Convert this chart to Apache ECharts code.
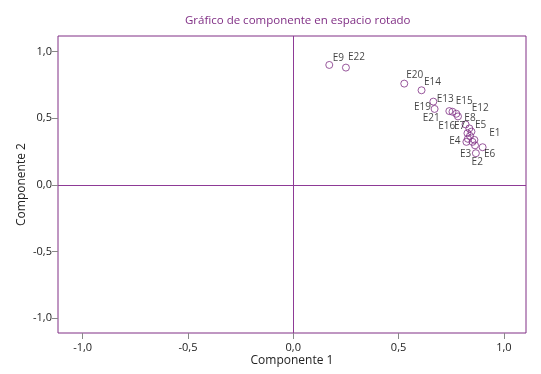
<!DOCTYPE html>
<html>
<head>
<meta charset="utf-8">
<script src="https://cdn.jsdelivr.net/npm/echarts@6/dist/echarts.min.js"></script>
<style>html,body{margin:0;padding:0;background:#fff}#chart{width:541px;height:374px}</style>
</head>
<body>
<div id="chart"></div>
<script>
// ---- data ----
const pointNames = ['E9','E22','E20','E14','E13','E19','E15','E21','E12','E16','E8','E5','E7','E10','E11','E17','E4','E18','E3','E1','E6','E2'];
const componente1 = [0.171,0.250,0.527,0.609,0.665,0.671,0.741,0.756,0.774,0.782,0.818,0.836,0.827,0.846,0.839,0.829,0.822,0.851,0.863,0.860,0.899,0.867];
const componente2 = [0.899,0.879,0.759,0.709,0.624,0.569,0.553,0.548,0.533,0.513,0.453,0.423,0.387,0.399,0.367,0.345,0.322,0.322,0.296,0.337,0.282,0.237];
const tickValues = [-1.0,-0.5,0.0,0.5,1.0];
const hiddenLabels = ['E10','E11','E17','E18'];

// ---- layout (label offsets in px, relative to the marker centre) ----
const labelOffsets = {
  E9:[3.5,-7], E22:[2,-10], E20:[2,-8], E14:[2.5,-8], E13:[3.4,-2.5], E19:[-20.7,-1.5],
  E15:[6.4,-9.7], E21:[-29.8,6.5], E12:[15.4,-5.5], E16:[-19.7,9.3], E8:[-1.2,-6.5],
  E5:[5.7,-3.5], E7:[-13.5,-7.3], E1:[14.8,-6.5], E4:[-17.2,-0.5], E3:[-15,8.5],
  E6:[1.3,6.7], E2:[-4.3,9.2]
};

const purple = '#802f85';
const zeroColor = '#8e3a96';
const font = 'Open Sans';
const fmt = v => v.toFixed(1).replace('.', ',');
const X_MIN = -1.117, X_MAX = 1.105, Y_MIN = -1.111, Y_MAX = 1.116;

const data = pointNames.map((n, i) => ({
  name: n,
  value: [componente1[i], componente2[i]],
  label: hiddenLabels.includes(n) ? {show:false} : {show:true, offset: labelOffsets[n] || [3,-7]}
}));

const chart = echarts.init(document.getElementById('chart'), null, {renderer:'canvas'});
chart.setOption({
  animation: false,
  backgroundColor: '#fff',
  title: {
    text: 'Gráfico de componente en espacio rotado',
    left: 180, top: 10,
    textStyle: {color: purple, fontFamily: font, fontSize: 11.5, fontWeight: 'normal'}
  },
  grid: {left: 58, right: 15, top: 36, bottom: 41, show: true, borderColor: purple, borderWidth: 1, backgroundColor: '#fff'},
  xAxis: {
    type: 'value', min: X_MIN, max: X_MAX,
    name: 'Componente 1', nameLocation: 'middle', nameGap: 22, nameMoveOverlap: false,
    nameTextStyle: {color: '#222', fontFamily: font, fontSize: 12},
    axisLine: {show: false, onZero: false},
    splitLine: {show: false},
    axisTick: {show: true, length: 6, customValues: tickValues, lineStyle: {color: '#888'}},
    axisLabel: {customValues: tickValues, formatter: fmt, margin: 9, color: '#222', fontFamily: font, fontSize: 11}
  },
  yAxis: {
    type: 'value', min: Y_MIN, max: Y_MAX,
    name: 'Componente 2', nameLocation: 'middle', nameGap: 30, nameMoveOverlap: false,
    nameTextStyle: {color: '#222', fontFamily: font, fontSize: 12},
    axisLine: {show: false, onZero: false},
    splitLine: {show: false},
    axisTick: {show: true, length: 6, customValues: tickValues, lineStyle: {color: '#888'}},
    axisLabel: {customValues: tickValues, formatter: fmt, margin: 6, color: '#222', fontFamily: font, fontSize: 11}
  },
  series: [{
    type: 'scatter',
    symbol: 'circle',
    symbolSize: 7,
    itemStyle: {color: 'rgba(255,255,255,0)', borderColor: purple, borderWidth: 1},
    label: {
      position: 'inside', align: 'left', verticalAlign: 'middle',
      formatter: '{b}', color: '#111', fontFamily: font, fontSize: 10
    },
    data: data,
    markLine: {
      silent: true, symbol: 'none', animation: false, precision: 3,
      label: {show: false},
      emphasis: {disabled: true},
      lineStyle: {color: zeroColor, type: 'solid', width: 1, opacity: 1},
      data: [{xAxis: 0}, {yAxis: 0}]
    },
    z: 3
  }]
});
</script>
</body>
</html>
